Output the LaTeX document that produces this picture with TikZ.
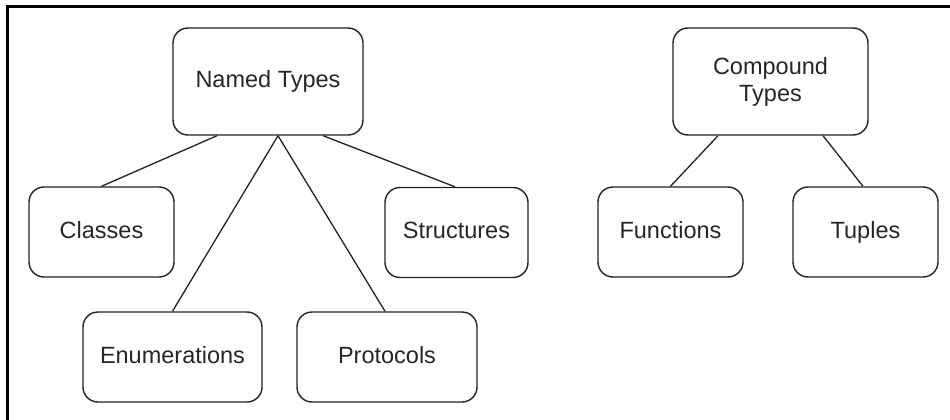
\documentclass[tikz,border=0pt]{standalone}
\usepackage{fontspec}
\setmainfont{Liberation Sans}
\usetikzlibrary{calc}
\definecolor{edge}{HTML}{222222}
\tikzset{
  box/.style={draw=edge, line width=1.4pt, rounded corners=15pt, inner sep=0pt,
    align=center, font=\fontsize{23.5}{27}\selectfont, text=black!85},
  oneline/.style={text height=17pt, text depth=5pt},
  bigbox/.style={box, minimum width=190pt, minimum height=107pt},
  smallbox/.style={box, oneline, minimum width=145pt, minimum height=90pt},
  widebox/.style={box, oneline, minimum width=179pt, minimum height=90pt},
  link/.style={draw=edge, line width=1.3pt},
  frame/.style={draw=black, line width=3pt}
}
\begin{document}
\begin{tikzpicture}[x=1pt, y=-1pt]
\useasboundingbox (0,0) rectangle (950,420);
\coordinate (fb) at (7.5,425);
\coordinate (fc) at (7.5,6.5);
\coordinate (fr) at (955,6.5);
\draw[frame] (fb) -- (fc) -- (fr);

\node[bigbox, oneline] (nt) at (268,81.5) {Named Types};
\node[bigbox, minimum width=195pt] (ct) at (770.5,81.5) {Compound\\Types};
\node[smallbox] (cl) at (101.5,232) {Classes};
\node[smallbox, minimum width=143pt] (st) at (456.5,232.5) {Structures};
\node[widebox] (en) at (172.5,357) {Enumerations};
\node[widebox, minimum width=180pt] (pr) at (387,357) {Protocols};
\node[smallbox] (fn) at (670.5,232) {Functions};
\node[smallbox] (tu) at (865.5,232) {Tuples};

\draw[link] ($(nt.south)+(-51,0)$) -- (cl.north);
\draw[link] ($(nt.south)+(10,0)$) -- (en.north);
\draw[link] ($(nt.south)+(10,0)$) -- ($(pr.north)+(-2,0)$);
\draw[link] ($(nt.south)+(55,0)$) -- ($(st.north)+(-1.5,0)$);
\draw[link] ($(ct.south)+(-52.5,0)$) -- (fn.north);
\draw[link] ($(ct.south)+(52.5,0)$) -- ($(tu.north)+(-2.5,0)$);
\end{tikzpicture}
\end{document}
